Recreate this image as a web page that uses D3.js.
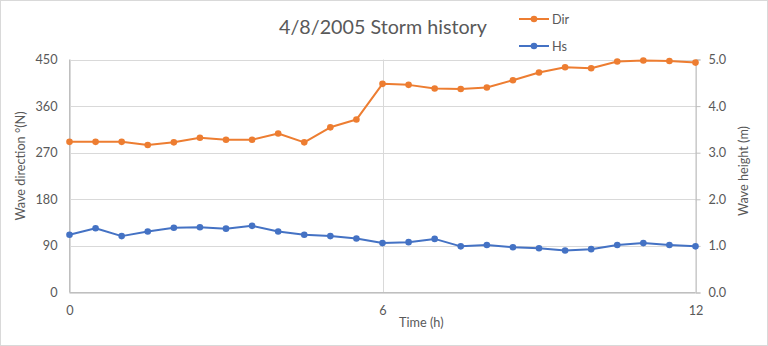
<!DOCTYPE html>
<html>
<head>
<meta charset="utf-8">
<script src="https://cdn.jsdelivr.net/npm/d3@7"></script>
<style>
  html, body { margin: 0; padding: 0; background: #fff; }
  svg { display: block; }
  text { font-family: Lato, "Noto Sans", sans-serif; fill: #595959; }
</style>
</head>
<body>
<svg id="chart" width="768" height="346"></svg>
<script>
// ---- data ----
const timeHours = [0,0.5,1,1.5,2,2.5,3,3.5,4,4.5,5,5.5,6,6.5,7,7.5,8,8.5,9,9.5,10,10.5,11,11.5,12];
const dirValues = [291,291,291,285,290,299,295,295,307,290,319,334,403,401,394,393,396,410,425,435,433,446,448,447,444];
const hsValues  = [1.24,1.38,1.21,1.31,1.39,1.40,1.37,1.43,1.31,1.24,1.21,1.16,1.06,1.08,1.15,0.99,1.02,0.97,0.95,0.90,0.93,1.02,1.06,1.02,0.99];
const leftTicks = [0,90,180,270,360,450];
const rightTicks = [0,1,2,3,4,5];
const xTicks = [0,6,12];
const titleText = "4/8/2005 Storm history";
const leftAxisTitle = "Wave direction °(N)";
const rightAxisTitle = "Wave height (m)";
const xAxisTitle = "Time (h)";
const seriesNames = ["Dir","Hs"];

const ORANGE = "#ED7D31", BLUE = "#4472C4";
const FS = "12.7px";
const svg = d3.select("#chart");

// outer border
svg.append("rect").attr("x",0.5).attr("y",0.5).attr("width",767).attr("height",345)
  .attr("fill","#fff").attr("stroke","#d9d9d9");

const L = 69.5, R = 695.5, T = 59.5, B = 292.5;
const x = d3.scaleLinear().domain([0,12]).range([L,R]);
const yL = d3.scaleLinear().domain([0,450]).range([B,T]);
const yR = d3.scaleLinear().domain([0,5]).range([B,T]);

// horizontal gridlines
svg.append("g").selectAll("line").data(leftTicks).join("line")
  .attr("x1",L).attr("x2",R).attr("y1",d=>Math.round(yL(d))+0.5).attr("y2",d=>Math.round(yL(d))+0.5)
  .attr("stroke","#d9d9d9").attr("stroke-width",1);
// vertical gridlines
svg.append("g").selectAll("line").data(xTicks).join("line")
  .attr("x1",d=>Math.round(x(d))+0.5).attr("x2",d=>Math.round(x(d))+0.5).attr("y1",T).attr("y2",B)
  .attr("stroke","#d9d9d9").attr("stroke-width",1);

// axis lines
svg.append("line").attr("x1",L).attr("x2",L).attr("y1",T).attr("y2",B).attr("stroke","#bfbfbf");
svg.append("line").attr("x1",L).attr("x2",R).attr("y1",B).attr("y2",B).attr("stroke","#bfbfbf");

// right axis using d3.axisRight
const rAxis = svg.append("g").attr("transform",`translate(${R},0)`)
  .call(d3.axisRight(yR).tickValues(rightTicks).tickFormat(d3.format(".1f")).tickSize(5).tickPadding(8));
rAxis.select(".domain").attr("stroke","#bfbfbf");
rAxis.selectAll(".tick line").attr("stroke","#bfbfbf");
rAxis.selectAll(".tick text").attr("fill","#595959").style("font-family","Lato, sans-serif").style("font-size",FS);

// left axis labels
const lAxis = svg.append("g").attr("transform",`translate(${L},0)`)
  .call(d3.axisLeft(yL).tickValues(leftTicks).tickSize(0).tickPadding(12));
lAxis.select(".domain").remove();
lAxis.selectAll(".tick text").attr("fill","#595959").style("font-family","Lato, sans-serif").style("font-size",FS);

// bottom axis labels
const bAxis = svg.append("g").attr("transform",`translate(0,${B})`)
  .call(d3.axisBottom(x).tickValues(xTicks).tickSize(0).tickPadding(13));
bAxis.select(".domain").remove();
bAxis.selectAll(".tick text").attr("fill","#595959").style("font-family","Lato, sans-serif").style("font-size",FS);

// series
const dirData = timeHours.map((t,i)=>({t, v: dirValues[i]}));
const hsData = timeHours.map((t,i)=>({t, v: hsValues[i]}));

function drawSeries(data, yScale, color){
  svg.append("path").datum(data)
    .attr("fill","none").attr("stroke",color).attr("stroke-width",2).attr("stroke-linejoin","round")
    .attr("d", d3.line().x(d=>x(d.t)).y(d=>yScale(d.v)));
  svg.append("g").selectAll("circle").data(data).join("circle")
    .attr("cx",d=>x(d.t)).attr("cy",d=>yScale(d.v)).attr("r",3.3).attr("fill",color);
}
drawSeries(hsData, yR, BLUE);
drawSeries(dirData, yL, ORANGE);

// title
svg.append("text").attr("x",383).attr("y",34).attr("text-anchor","middle")
  .style("font-size","19.7px").text(titleText);

// axis titles
svg.append("text").attr("transform","translate(25,166) rotate(-90)").attr("text-anchor","middle")
  .style("font-size",FS).text(leftAxisTitle);
svg.append("text").attr("transform","translate(748,171) rotate(-90)").attr("text-anchor","middle")
  .style("font-size",FS).text(rightAxisTitle);
svg.append("text").attr("x",399).attr("y",327).style("font-size",FS).text(xAxisTitle);

// legend
const legend = svg.append("g");
[[ORANGE,19],[BLUE,46]].forEach(([c,yy],i)=>{
  legend.append("line").attr("x1",519).attr("x2",549).attr("y1",yy).attr("y2",yy).attr("stroke",c).attr("stroke-width",2);
  legend.append("circle").attr("cx",534).attr("cy",yy).attr("r",3.3).attr("fill",c);
  legend.append("text").attr("x",552).attr("y",yy+4.5).style("font-size",FS).text(seriesNames[i]);
});
</script>
</body>
</html>
